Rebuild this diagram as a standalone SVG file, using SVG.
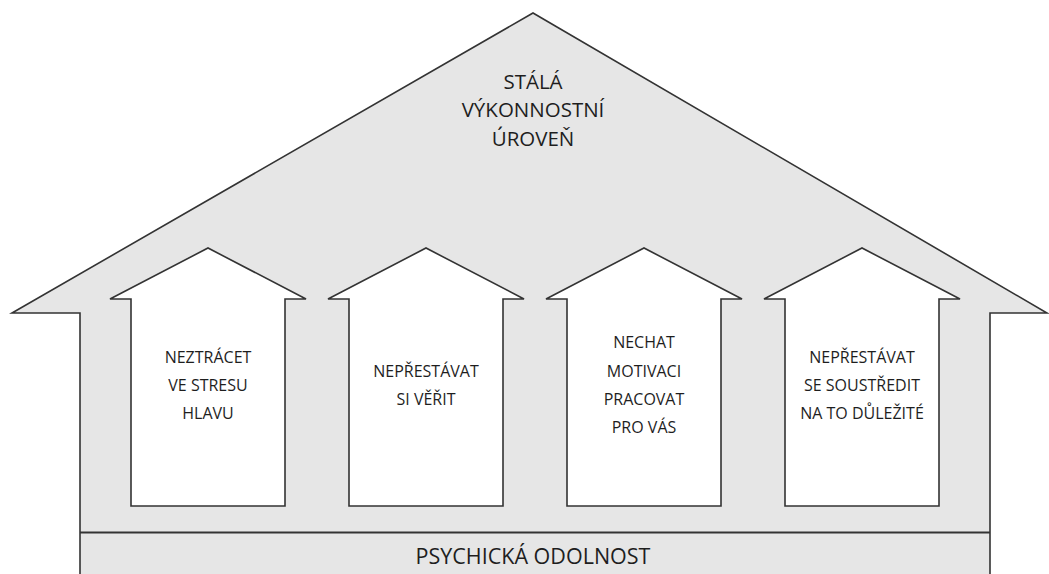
<svg xmlns="http://www.w3.org/2000/svg" width="1049" height="574" viewBox="0 0 1049 574">
<style>
.shape{fill:#e6e6e6;stroke:#333;stroke-width:1.6;stroke-linejoin:miter}
.arrow{fill:#fff;stroke:#333;stroke-width:1.6;stroke-linejoin:miter}
.t{font-family:"Open Sans","Liberation Sans",sans-serif;fill:#1e1e1e;text-anchor:middle}
.big{font-size:20.5px}
.base{font-size:21.5px}
.small{font-size:16px}
</style>
<rect width="1049" height="574" fill="#fff"/>
<g id="house">
<path class="shape" d="M80,575 L80,313 L12,313 L533,13 L1047,313 L990,313 L990,575"/>
<text class="t big" x="533" y="89">STÁLÁ</text>
<text class="t big" x="533" y="117">VÝKONNOSTNÍ</text>
<text class="t big" x="533" y="146">ÚROVEŇ</text>
</g>
<g id="base">
<line x1="80" y1="532.5" x2="990" y2="532.5" stroke="#333" stroke-width="1.8"/>
<text class="t base" x="533" y="563.5">PSYCHICKÁ ODOLNOST</text>
</g>
<g id="arrow1">
<path class="arrow" d="M131,506 L131,299 L110,299 L208,248 L306,299 L285,299 L285,506 Z"/>
<text class="t small" x="208" y="363">NEZTRÁCET</text>
<text class="t small" x="208" y="391">VE STRESU</text>
<text class="t small" x="208" y="419">HLAVU</text>
</g>
<g id="arrow2">
<path class="arrow" d="M349,506 L349,299 L328,299 L426,248 L524,299 L503,299 L503,506 Z"/>
<text class="t small" x="426" y="377">NEPŘESTÁVAT</text>
<text class="t small" x="426" y="405">SI VĚŘIT</text>
</g>
<g id="arrow3">
<path class="arrow" d="M567,506 L567,299 L546,299 L644,248 L742,299 L721,299 L721,506 Z"/>
<text class="t small" x="644" y="348">NECHAT</text>
<text class="t small" x="644" y="377">MOTIVACI</text>
<text class="t small" x="644" y="405">PRACOVAT</text>
<text class="t small" x="644" y="433">PRO VÁS</text>
</g>
<g id="arrow4">
<path class="arrow" d="M785,506 L785,299 L764,299 L862,248 L960,299 L939,299 L939,506 Z"/>
<text class="t small" x="862" y="363">NEPŘESTÁVAT</text>
<text class="t small" x="862" y="391">SE SOUSTŘEDIT</text>
<text class="t small" x="862" y="419">NA TO DŮLEŽITÉ</text>
</g>
<g id="connectors"/>
</svg>
